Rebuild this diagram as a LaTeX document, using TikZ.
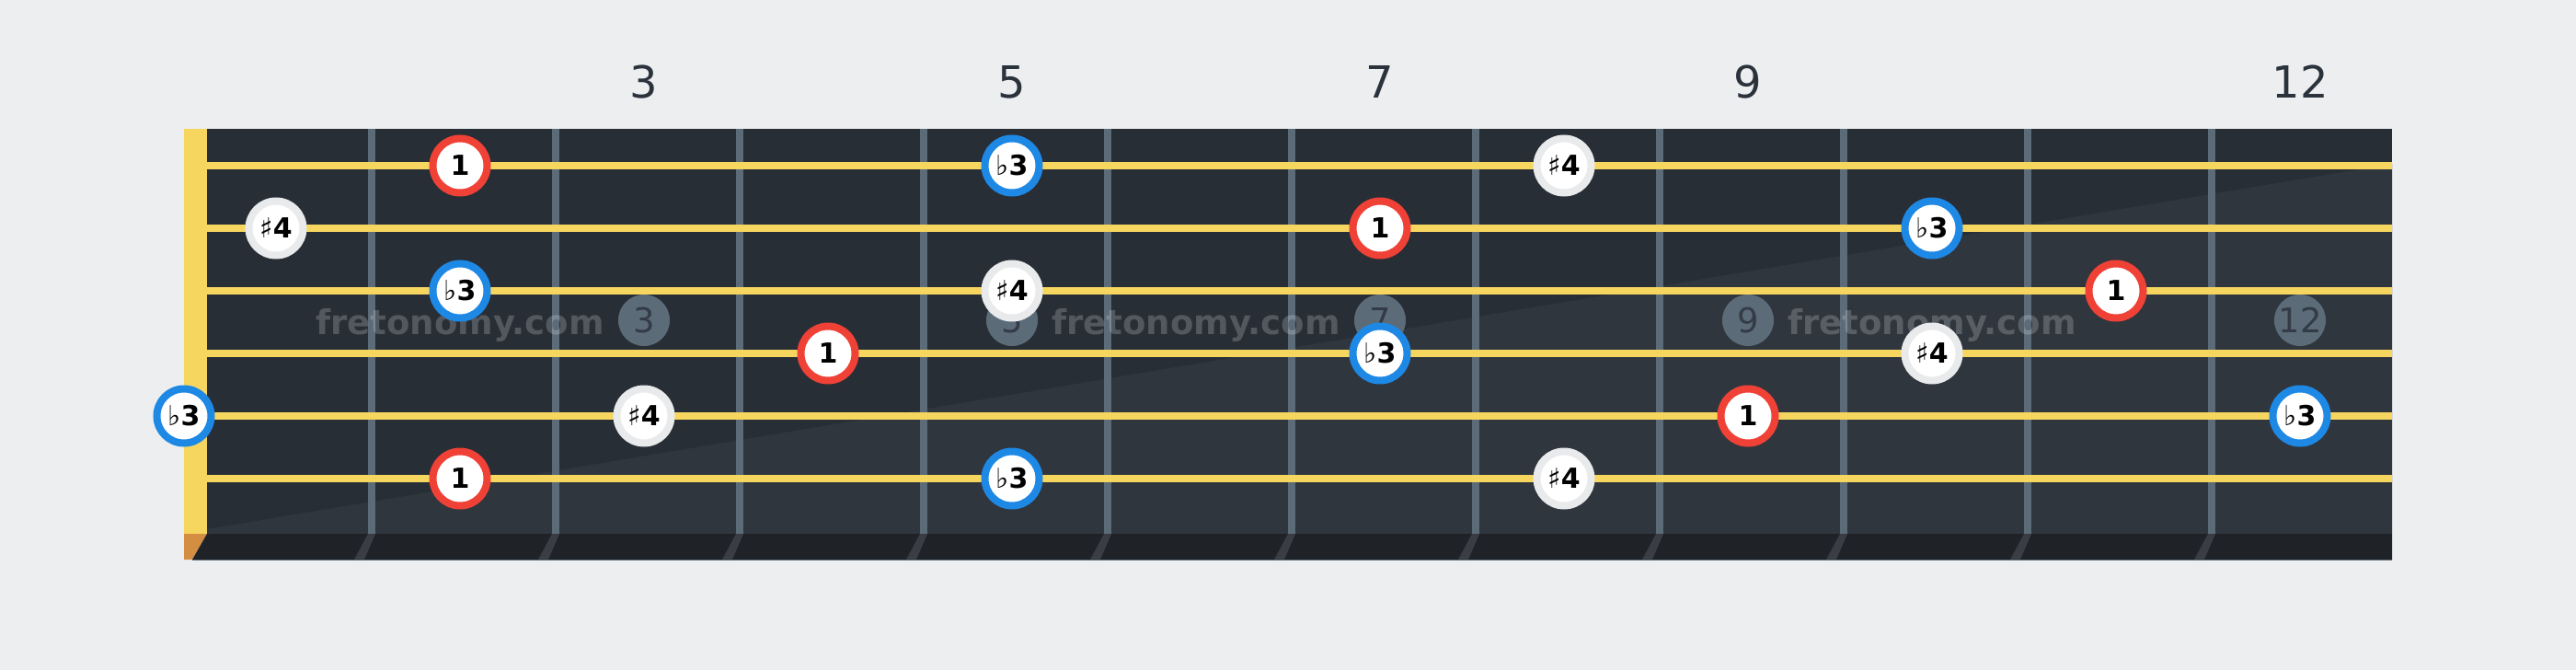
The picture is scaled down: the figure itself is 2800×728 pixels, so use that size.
\documentclass[tikz,border=0pt]{standalone}
\usepackage{fontspec}
\setmainfont{DejaVu Sans}
\definecolor{pagebg}{HTML}{EDEEF0}
\definecolor{boarddark}{HTML}{282E36}
\definecolor{boardlight}{HTML}{30363E}
\definecolor{stringyellow}{HTML}{F7D660}
\definecolor{fretgray}{HTML}{5C6B78}
\definecolor{stripdark}{HTML}{1F2328}
\definecolor{nutorange}{HTML}{D48E42}
\definecolor{rootred}{HTML}{EF4136}
\definecolor{thirdblue}{HTML}{1E88E5}
\definecolor{fourthgray}{HTML}{E8EAEC}
\definecolor{labeldark}{HTML}{2A323C}
\definecolor{inlaytext}{HTML}{333C46}
\definecolor{fretshadow}{HTML}{3A3E44}
\begin{document}
\begin{tikzpicture}
[x=1pt,y=-1pt,
  notedecorate/.style={shape=circle,minimum size=59pt,inner sep=0pt,line width=8pt,
    fill=white,font=\fontsize{30}{36}\selectfont},%
  rootnote/.style={notedecorate,draw=rootred},%
  thirdnote/.style={notedecorate,draw=thirdblue},%
  fourthnote/.style={notedecorate,draw=fourthgray},%
  inlaydecorate/.style={shape=circle,minimum size=56pt,inner sep=0pt,fill=fretgray,
    text=inlaytext,font=\fontsize{37}{44}\selectfont},%
  fretlabel/.style={text=labeldark,font=\fontsize{48}{56}\selectfont},%
  watermark/.style={anchor=base,text=white,text opacity=0.2,
    font=\bfseries\fontsize{37}{44}\selectfont}]
%% page and board
\fill[pagebg] (0,0) rectangle (2800,728);
\useasboundingbox (0,0) rectangle (2800,728);
\fill[boarddark] (225,140) rectangle (2600,580);
\fill[boardlight] (225,575) -- (2600,178) -- (2600,580) -- (225,580) -- cycle;
\fill[stringyellow] (200,140) rectangle (225,580);
\fill[nutorange] (200,580) -- (225,580) -- (209,608) -- (200,608) -- cycle;
\fill[stripdark] (225,580) -- (2600,580) -- (2600,608) -- (209,608) -- cycle;
\draw[fretgray,line width=1pt] (209,608) -- (2600,608);
%% frets
\foreach \i in {1,...,11} {
  \fill[fretshadow] ({200*\i+200},580) -- ({200*\i+208},580)
    -- ({200*\i+196},608) -- ({200*\i+185},608) -- cycle;
  \fill[fretgray] ({200*\i+200},140) rectangle ({200*\i+208},580);
}
%% strings
\foreach \s in {1,...,6}
  \draw[stringyellow,line width=8pt] (225,{112+68*\s}) -- (2600,{112+68*\s});
%% inlays, fret numbers
\foreach \fretnum/\x in {3/700, 5/1100, 7/1500, 9/1900, 12/2500} {
  \node (i\fretnum) at (\x,348) [inlaydecorate] {\fretnum};
  \node (t\fretnum) at (\x,89) [fretlabel] {\fretnum};
}
\foreach \markname/\x in {w1/500, w2/1300, w3/2100}
  \node (\markname) at (\x,363) [watermark] {fretonomy.com};
%% notes
\foreach \nodename/\x/\s/\kind/\lbl in {a1/500/1/rootnote/\textbf{1},
  a2/1100/1/thirdnote/♭\textbf{3}, a3/1700/1/fourthnote/♯\textbf{4},
  b1/300/2/fourthnote/♯\textbf{4}, b2/1500/2/rootnote/\textbf{1},
  b3/2100/2/thirdnote/♭\textbf{3}, c1/500/3/thirdnote/♭\textbf{3},
  c2/1100/3/fourthnote/♯\textbf{4}, c3/2300/3/rootnote/\textbf{1},
  d1/900/4/rootnote/\textbf{1}, d2/1500/4/thirdnote/♭\textbf{3},
  d3/2100/4/fourthnote/♯\textbf{4}, e1/200/5/thirdnote/♭\textbf{3},
  e2/700/5/fourthnote/♯\textbf{4}, e3/1900/5/rootnote/\textbf{1},
  e4/2500/5/thirdnote/♭\textbf{3}, f1/500/6/rootnote/\textbf{1},
  f2/1100/6/thirdnote/♭\textbf{3}, f3/1700/6/fourthnote/♯\textbf{4}} {
  \node (\nodename) at (\x,{112+68*\s}) [\kind] {\lbl};
}
\end{tikzpicture}
\end{document}
